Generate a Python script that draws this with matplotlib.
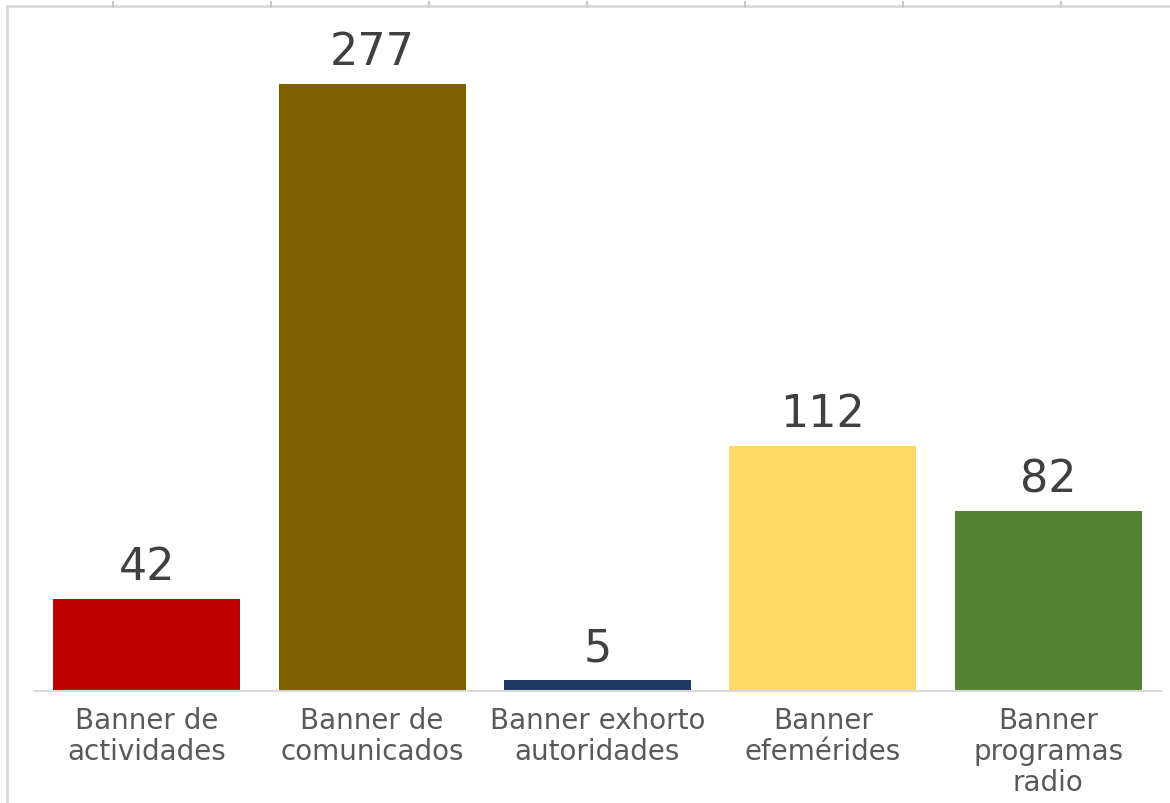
import matplotlib.pyplot as plt
from matplotlib.lines import Line2D

categories = ["Banner de\nactividades", "Banner de\ncomunicados", "Banner exhorto\nautoridades",
              "Banner\nefemérides", "Banner\nprogramas\nradio"]
values = [42, 277, 5, 112, 82]
colors = ["#C00000", "#7F6000", "#203864", "#FFD966", "#548235"]

W, H = 1170, 804
fig = plt.figure(figsize=(W / 100, H / 100), dpi=100)
ax = fig.add_axes([34 / W, (H - 692) / H, (1161 - 34) / W, 657.4 / H])

x = list(range(len(values)))
bars = ax.bar(x, values, width=0.83, color=colors)
for b, v in zip(bars, values):
    ax.text(b.get_x() + b.get_width() / 2, v + 5, str(v), ha="center", va="bottom",
            fontsize=32, color="#404040")

ax.set_xlim(-0.5, 4.5)
ax.set_ylim(0, 300)
ax.set_xticks(x)
ax.set_xticklabels(categories, fontsize=20, color="#595959", linespacing=1.12)
ax.tick_params(axis="x", length=0, pad=11)
ax.set_yticks([])
for s in ["top", "right", "left"]:
    ax.spines[s].set_visible(False)
ax.spines["bottom"].set_color("#d9d9d9")
ax.spines["bottom"].set_linewidth(1.5)

# faint sheet border at top and left
gc = "#d9d9d9"
fig.add_artist(Line2D([7 / W, 1], [1 - 7 / H, 1 - 7 / H], color=gc, lw=2, transform=fig.transFigure))
fig.add_artist(Line2D([7 / W, 7 / W], [0, 1 - 7 / H], color=gc, lw=2, transform=fig.transFigure))
for tx in [113, 271, 429, 587, 745, 903, 1061]:
    fig.add_artist(Line2D([tx / W, tx / W], [1 - 3 / H, 1 - 7 / H], color="#c8c8c8", lw=1.5,
                          transform=fig.transFigure))

fig.savefig("out.png", dpi=100)
